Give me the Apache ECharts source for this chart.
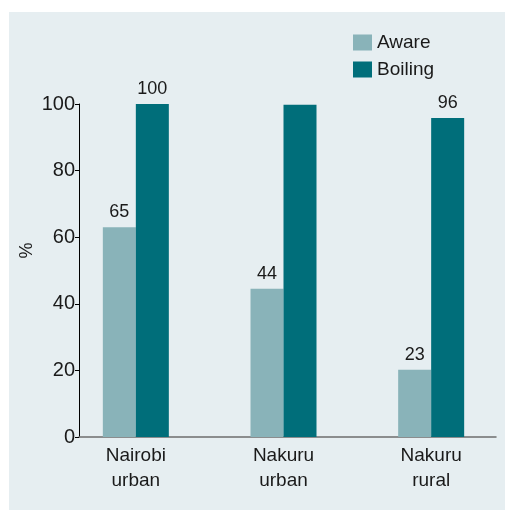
<!DOCTYPE html>
<html><head><meta charset="utf-8">
<script src="https://cdn.jsdelivr.net/npm/echarts@6/dist/echarts.min.js"></script>
<style>html,body{margin:0;padding:0;background:#fff}#c{width:505px;height:511px}</style>
</head><body><div id="c"></div>
<script>
const categories = ['Nairobi\nurban', 'Nakuru\nurban', 'Nakuru\nrural'];
const awareValues = [63, 44.5, 20.2];
const boilingValues = [100.8, 99.8, 95.8];
const awareLabels = ['65', '44', '23'];
const boilingLabels = ['100', '', '96'];
const yTicks = [0, 20, 40, 60, 80, 100];

const FONT = '"Liberation Sans Narrow", "Arial Narrow", "Liberation Sans", Arial, sans-serif';
const chart = echarts.init(document.getElementById('c'), null, {renderer: 'canvas'});
chart.setOption({
  backgroundColor: '#ffffff',
  animation: false,
  textStyle: {fontFamily: FONT},
  graphic: [{type: 'rect', shape: {x: 9, y: 12, width: 496, height: 498}, style: {fill: '#e6eef1'}, z: -10}],
  legend: {
    orient: 'vertical', left: 353, top: 33, padding: 0, itemWidth: 19, itemHeight: 16, itemGap: 8,
    icon: 'rect', data: ['Aware', 'Boiling'],
    textStyle: {fontFamily: FONT, fontSize: 19, color: '#1a1a1a'}
  },
  grid: [
    {left: 79, top: 104, width: 417, height: 333},
    {left: 62, top: 104, width: 444, height: 333}
  ],
  xAxis: [
    {type: 'category', gridIndex: 0, data: categories, axisLine: {lineStyle: {color: '#6e6e6e', width: 1.5}},
     axisTick: {show: false}, axisLabel: {show: false}},
    {type: 'category', gridIndex: 1, data: categories, axisLine: {show: false}, axisTick: {show: false},
     axisLabel: {fontFamily: FONT, fontSize: 19, lineHeight: 25, color: '#1a1a1a', margin: 6}}
  ],
  yAxis: [
    {type: 'value', gridIndex: 0, min: yTicks[0], max: yTicks[yTicks.length - 1], interval: 20,
     axisLine: {show: true, lineStyle: {color: '#000', width: 1}},
     axisTick: {show: true, length: 4, lineStyle: {color: '#000'}},
     splitLine: {show: false},
     axisLabel: {fontFamily: FONT, fontSize: 20, color: '#1a1a1a', margin: 4},
     name: '%', nameLocation: 'middle', nameRotate: 90, nameGap: 43, nameMoveOverlap: false,
     nameTextStyle: {fontFamily: FONT, fontSize: 18, color: '#1a1a1a', padding: [0, 0, 0, 40]}},
    {type: 'value', gridIndex: 1, min: 0, max: 100, show: false}
  ],
  series: [
    {name: 'Aware', type: 'bar', xAxisIndex: 1, yAxisIndex: 1, data: awareValues, barWidth: 33, barGap: '0%',
     itemStyle: {color: '#89b3b9'},
     label: {show: true, position: 'top', distance: 6, fontFamily: FONT, fontSize: 18, color: '#1a1a1a',
       formatter: p => awareLabels[p.dataIndex]}},
    {name: 'Boiling', type: 'bar', xAxisIndex: 1, yAxisIndex: 1, data: boilingValues, barWidth: 33, barGap: '0%',
     itemStyle: {color: '#006e7a'},
     label: {show: true, position: 'top', distance: 6, fontFamily: FONT, fontSize: 18, color: '#1a1a1a',
       formatter: p => boilingLabels[p.dataIndex]}}
  ]
});
</script></body></html>
